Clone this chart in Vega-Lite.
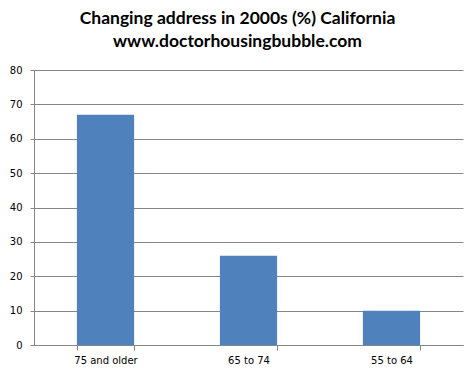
{
  "$schema": "https://vega.github.io/schema/vega-lite/v6.json",
  "width": 429,
  "height": 275,
  "autosize": {"type": "none"},
  "padding": {"left": 34, "top": 70, "right": 12, "bottom": 25},
  "background": "white",
  "title": {
    "text": ["Changing address in 2000s (%) California", "www.doctorhousingbubble.com"],
    "font": "Lato",
    "fontSize": 17.5,
    "fontWeight": "bold",
    "color": "#000000",
    "anchor": "middle",
    "frame": "group",
    "dx": -11,
    "lineHeight": 23,
    "offset": 15
  },
  "data": {
    "values": [
      {"age": "75 and older", "pct": 67},
      {"age": "65 to 74", "pct": 26},
      {"age": "55 to 64", "pct": 10}
    ]
  },
  "mark": {"type": "bar", "color": "#4F81BD"},
  "encoding": {
    "x": {
      "field": "age",
      "type": "nominal",
      "sort": null,
      "scale": {"paddingInner": 0.6, "paddingOuter": 0.3},
      "axis": {
        "title": null,
        "labelAngle": 0,
        "labelFont": "DejaVu Sans",
        "labelFontSize": 10,
        "labelColor": "#000000",
        "labelPadding": 5,
        "tickBand": "extent",
        "tickColor": "#868686",
        "tickSize": 5,
        "domainColor": "#868686",
        "grid": false
      }
    },
    "y": {
      "field": "pct",
      "type": "quantitative",
      "scale": {"domain": [0, 80]},
      "axis": {
        "title": null,
        "values": [0, 10, 20, 30, 40, 50, 60, 70, 80],
        "labelFont": "DejaVu Sans",
        "labelFontSize": 10,
        "labelColor": "#000000",
        "labelPadding": 8,
        "tickColor": "#868686",
        "tickSize": 4,
        "domainColor": "#868686",
        "gridColor": "#868686",
        "gridOpacity": 1
      }
    }
  },
  "config": {"view": {"stroke": null}}
}
